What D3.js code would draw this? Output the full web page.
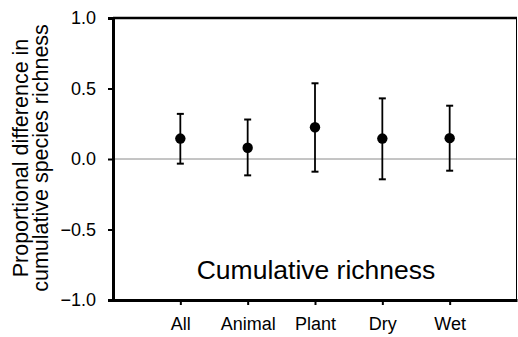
<!DOCTYPE html>
<html>
<head>
<meta charset="utf-8">
<script src="https://cdn.jsdelivr.net/npm/d3@7"></script>
<style>
  html, body { margin: 0; padding: 0; background: #fff; }
  svg { display: block; font-family: "Liberation Sans", Arial, Helvetica, sans-serif; }
</style>
</head>
<body>
<svg id="chart" width="518" height="337"></svg>
<script>
const categories = ["All", "Animal", "Plant", "Dry", "Wet"];
const means = [0.145, 0.08, 0.225, 0.145, 0.148];
const upper = [0.32, 0.28, 0.537, 0.43, 0.378];
const lower = [-0.033, -0.116, -0.09, -0.144, -0.083];
const yTicks = [-1.0, -0.5, 0.0, 0.5, 1.0];
const yTitleLines = ["Proportional difference in", "cumulative species richness"];
const panelLabel = "Cumulative richness";

const data = categories.map((c, i) => ({ cat: c, mean: means[i], hi: upper[i], lo: lower[i] }));

const svg = d3.select("#chart");
const L = 113, R = 517, T = 18, B = 300;

const x = d3.scalePoint().domain(categories).range([L, R]).padding(1);
const y = d3.scaleLinear().domain([-1, 1]).range([B, T]);

// zero reference line
svg.append("line")
  .attr("x1", L).attr("x2", R)
  .attr("y1", y(0)).attr("y2", y(0))
  .attr("stroke", "#8a8a8a").attr("stroke-width", 1);

// frame: top and right
svg.append("line").attr("x1", L).attr("x2", R).attr("y1", T).attr("y2", T)
  .attr("stroke", "#000").attr("stroke-width", 2.6);
svg.append("line").attr("x1", R - 0.5).attr("x2", R - 0.5).attr("y1", T).attr("y2", B)
  .attr("stroke", "#000").attr("stroke-width", 1);

// y axis
const yAxis = svg.append("g").attr("transform", `translate(${L},0)`)
  .call(d3.axisLeft(y).tickValues(yTicks).tickSize(5).tickPadding(12)
    .tickFormat(d => d3.format(".1f")(d).replace("-", "\u2212")));
yAxis.select(".domain").attr("stroke-width", 3);
yAxis.selectAll(".tick line").attr("stroke-width", 2);
yAxis.selectAll(".tick text").attr("font-size", 18).attr("fill", "#000")
  .attr("font-family", '"Liberation Sans", Arial, sans-serif');

// x axis
const xAxis = svg.append("g").attr("transform", `translate(0,${B})`)
  .call(d3.axisBottom(x).tickSize(5).tickPadding(12).tickSizeOuter(0));
xAxis.select(".domain").attr("stroke-width", 3);
xAxis.selectAll(".tick line").attr("stroke-width", 2);
xAxis.selectAll(".tick text").attr("font-size", 18).attr("fill", "#000")
  .attr("font-family", '"Liberation Sans", Arial, sans-serif');

// error bars
const g = svg.append("g");
g.selectAll("line.err").data(data).join("line").attr("class", "err")
  .attr("x1", d => x(d.cat)).attr("x2", d => x(d.cat))
  .attr("y1", d => y(d.hi)).attr("y2", d => y(d.lo))
  .attr("stroke", "#000").attr("stroke-width", 1.8);
const cap = 3.5;
g.selectAll("line.capHi").data(data).join("line").attr("class", "capHi")
  .attr("x1", d => x(d.cat) - cap).attr("x2", d => x(d.cat) + cap)
  .attr("y1", d => y(d.hi)).attr("y2", d => y(d.hi))
  .attr("stroke", "#000").attr("stroke-width", 2);
g.selectAll("line.capLo").data(data).join("line").attr("class", "capLo")
  .attr("x1", d => x(d.cat) - cap).attr("x2", d => x(d.cat) + cap)
  .attr("y1", d => y(d.lo)).attr("y2", d => y(d.lo))
  .attr("stroke", "#000").attr("stroke-width", 2);
g.selectAll("circle").data(data).join("circle")
  .attr("cx", d => x(d.cat)).attr("cy", d => y(d.mean))
  .attr("r", 5.2).attr("fill", "#000");

// panel label
svg.append("text")
  .attr("x", 316).attr("y", 279)
  .attr("text-anchor", "middle")
  .attr("font-size", 26.5)
  .attr("fill", "#000")
  .text(panelLabel);

// y title
const yt = svg.append("text")
  .attr("transform", "translate(0,158) rotate(-90)")
  .attr("text-anchor", "middle")
  .attr("font-size", 21.5)
  .attr("fill", "#000");
yt.selectAll("tspan").data(yTitleLines).join("tspan")
  .attr("x", 0)
  .attr("y", (d, i) => 28 + i * 19.5)
  .text(d => d);
</script>
</body>
</html>
